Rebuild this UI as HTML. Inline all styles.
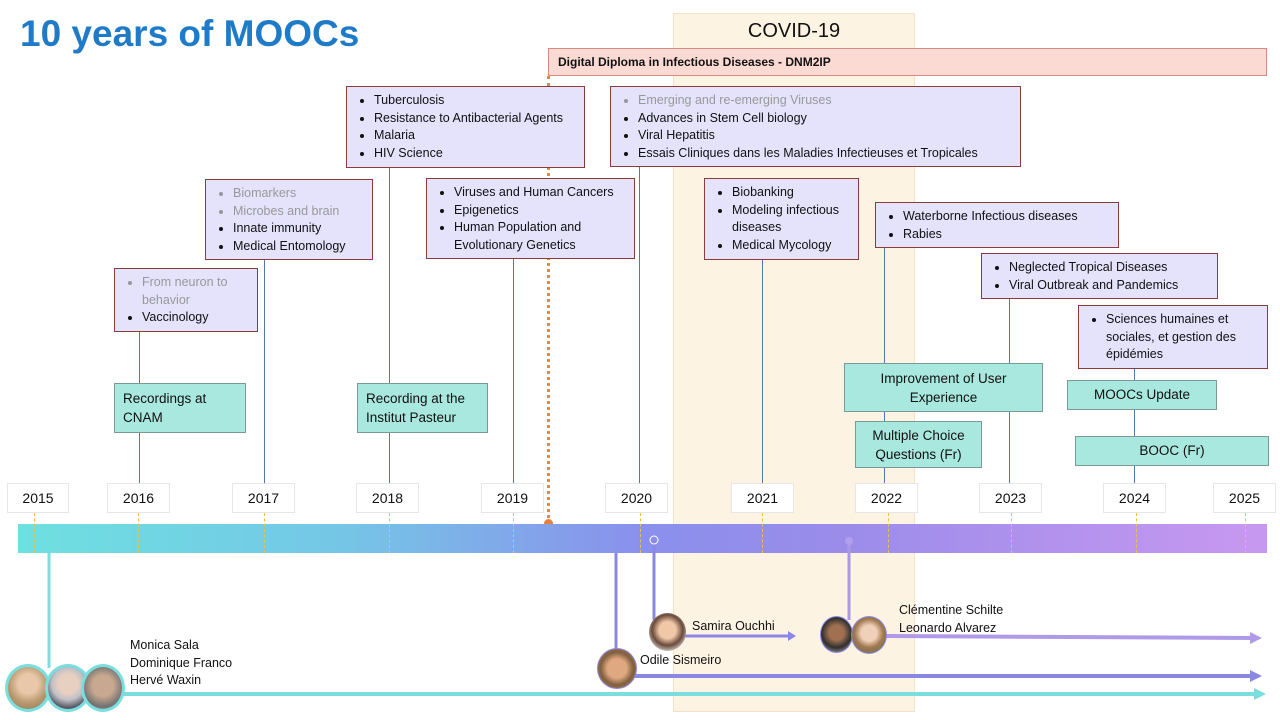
<!DOCTYPE html>
<html><head><meta charset="utf-8"><style>
body{margin:0;width:1280px;height:720px;position:relative;overflow:hidden;background:#fff;font-family:"Liberation Sans",sans-serif;color:#111}
.a{position:absolute}
.box{position:absolute;background:#e5e2fc;border:1px solid #8b3b3b;box-sizing:border-box;font-size:12.5px;line-height:17.5px;padding:5px 6px 0 0}
.box ul{margin:0;padding-left:27px}
.box li{padding-left:0}
.g{color:#999}
.t{position:absolute;background:#a9e8de;border:1px solid #7a9a96;box-sizing:border-box;font-size:13.5px;line-height:19px}
.yr{position:absolute;top:483px;height:30px;background:#fff;border:1px solid #e6e6e6;box-sizing:border-box;font-size:14px;line-height:28px;text-align:center}
.v{position:absolute;width:1px;background:#4d7bb0}
.d{position:absolute;top:513px;height:40px;border-left:1px dashed #f0c040}
.name{position:absolute;font-size:12.5px;line-height:17.5px}
.av{position:absolute;border-radius:50%;box-sizing:border-box}
</style></head><body>
<div class="a" style="left:673px;top:13px;width:242px;height:699px;background:#fdf3e3;border:1px solid #f3e2c6;box-sizing:border-box"></div>
<div class="a" style="left:20px;top:13px;font-size:37px;font-weight:bold;color:#1f7bc8">10 years of MOOCs</div>
<div class="a" style="left:673px;top:20px;width:242px;text-align:center;font-size:20px">COVID-19</div>
<div class="a" style="left:548px;top:48px;width:719px;height:28px;background:#fbdad4;border:1px solid #d98a80;box-sizing:border-box;font-size:12px;font-weight:bold;line-height:26px;padding-left:9px">Digital Diploma in Infectious Diseases - DNM2IP</div>
<div class="a" style="left:547px;top:76px;height:448px;border-left:3px dotted #e8883a"></div>
<div class="a" style="left:544px;top:519px;width:9px;height:9px;border-radius:50%;background:#e8803a"></div>

<div class="v" style="left:139px;top:331px;height:152px"></div>
<div class="v" style="left:264px;top:259px;height:224px"></div>
<div class="v" style="left:389px;top:167px;height:316px"></div>
<div class="v" style="left:513px;top:258px;height:225px"></div>
<div class="v" style="left:639px;top:166px;height:317px"></div>
<div class="v" style="left:762px;top:259px;height:224px"></div>
<div class="v" style="left:884px;top:247px;height:236px"></div>
<div class="v" style="left:1009px;top:298px;height:185px"></div>
<div class="v" style="left:1134px;top:368px;height:115px"></div>

<div class="box" style="left:114px;top:268px;width:144px;height:64px"><ul><li class="g">From neuron to behavior</li><li>Vaccinology</li></ul></div>
<div class="box" style="left:205px;top:179px;width:168px;height:81px"><ul><li class="g">Biomarkers</li><li class="g">Microbes and brain</li><li>Innate immunity</li><li>Medical Entomology</li></ul></div>
<div class="box" style="left:346px;top:86px;width:239px;height:82px"><ul><li>Tuberculosis</li><li>Resistance to Antibacterial Agents</li><li>Malaria</li><li>HIV Science</li></ul></div>
<div class="box" style="left:426px;top:178px;width:209px;height:81px"><ul><li>Viruses and Human Cancers</li><li>Epigenetics</li><li>Human Population and Evolutionary Genetics</li></ul></div>
<div class="box" style="left:610px;top:86px;width:411px;height:81px"><ul><li class="g">Emerging and re-emerging Viruses</li><li>Advances in Stem Cell biology</li><li>Viral Hepatitis</li><li>Essais Cliniques dans les Maladies Infectieuses et Tropicales</li></ul></div>
<div class="box" style="left:704px;top:178px;width:155px;height:82px"><ul><li>Biobanking</li><li>Modeling infectious diseases</li><li>Medical Mycology</li></ul></div>
<div class="box" style="left:875px;top:202px;width:244px;height:46px"><ul><li>Waterborne Infectious diseases</li><li>Rabies</li></ul></div>
<div class="box" style="left:981px;top:253px;width:237px;height:46px"><ul><li>Neglected Tropical Diseases</li><li>Viral Outbreak and Pandemics</li></ul></div>
<div class="box" style="left:1078px;top:305px;width:190px;height:64px"><ul><li>Sciences humaines et sociales, et gestion des épidémies</li></ul></div>

<div class="t" style="left:114px;top:383px;width:132px;height:50px;padding:5px 8px">Recordings at CNAM</div>
<div class="t" style="left:357px;top:383px;width:131px;height:50px;padding:5px 8px">Recording at the Institut Pasteur</div>
<div class="t" style="left:844px;top:363px;width:199px;height:49px;padding:5px 8px;text-align:center">Improvement of User Experience</div>
<div class="t" style="left:855px;top:421px;width:127px;height:47px;padding:4px 4px;text-align:center">Multiple Choice Questions (Fr)</div>
<div class="t" style="left:1067px;top:380px;width:150px;height:30px;line-height:28px;text-align:center">MOOCs Update</div>
<div class="t" style="left:1075px;top:436px;width:194px;height:30px;line-height:28px;text-align:center">BOOC (Fr)</div>

<div class="a" style="left:18px;top:524px;width:1249px;height:29px;background:linear-gradient(90deg,#6ee0e0 0%,#74c8e6 25%,#8a90ec 50%,#9a8cea 65%,#c898f0 100%)"></div>
<div class="yr" style="left:7px;width:62px">2015</div>
<div class="yr" style="left:107px;width:63px">2016</div>
<div class="yr" style="left:232px;width:63px">2017</div>
<div class="yr" style="left:356px;width:63px">2018</div>
<div class="yr" style="left:481px;width:63px">2019</div>
<div class="yr" style="left:605px;width:63px">2020</div>
<div class="yr" style="left:731px;width:63px">2021</div>
<div class="yr" style="left:855px;width:63px">2022</div>
<div class="yr" style="left:979px;width:63px">2023</div>
<div class="yr" style="left:1103px;width:63px">2024</div>
<div class="yr" style="left:1213px;width:63px">2025</div>
<div class="d" style="left:34px"></div><div class="d" style="left:138px"></div><div class="d" style="left:264px"></div><div class="d" style="left:389px"></div><div class="d" style="left:513px"></div><div class="d" style="left:640px"></div><div class="d" style="left:762px"></div><div class="d" style="left:888px"></div><div class="d" style="left:1011px"></div><div class="d" style="left:1136px"></div><div class="d" style="left:1245px"></div>

<svg class="a" style="left:0;top:0" width="1280" height="720">
<line x1="49" y1="553" x2="49" y2="668" stroke="#7adede" stroke-width="3"/>
<line x1="100" y1="694" x2="1255" y2="694" stroke="#7adede" stroke-width="4"/>
<polygon points="1254,688 1266,694 1254,700" fill="#7adede"/>
<line x1="616" y1="553" x2="616" y2="652" stroke="#8a88e2" stroke-width="3"/>
<line x1="630" y1="676" x2="1252" y2="676" stroke="#8a88e2" stroke-width="4"/>
<polygon points="1250,670 1262,676 1250,682" fill="#8a88e2"/>
<line x1="654" y1="540" x2="654" y2="620" stroke="#8a88e2" stroke-width="3"/>
<circle cx="654" cy="540" r="4" fill="none" stroke="#fff" stroke-width="1"/>
<line x1="668" y1="636" x2="790" y2="636" stroke="#8a88e2" stroke-width="3"/>
<polygon points="788,631 796,636 788,641" fill="#8a88e2"/>
<line x1="849" y1="541" x2="849" y2="620" stroke="#a898e6" stroke-width="3"/>
<circle cx="849" cy="541" r="4" fill="#b0a0ec"/>
<line x1="880" y1="636" x2="1252" y2="638" stroke="#b09ae8" stroke-width="4"/>
<polygon points="1250,632 1262,638 1250,644" fill="#b09ae8"/>
</svg>

<div class="av" style="left:5px;top:664px;width:46px;height:48px;border:3px solid #7adede;background:radial-gradient(circle at 50% 40%,#e8c8a8 0 30%,#b89870 60%,#8a7a50)"></div>
<div class="av" style="left:45px;top:664px;width:46px;height:48px;border:3px solid #7adede;background:radial-gradient(circle at 50% 40%,#e8d0c0 0 30%,#c0c0c8 50%,#404050 80%)"></div>
<div class="av" style="left:81px;top:664px;width:44px;height:48px;border:3px solid #7adede;background:radial-gradient(circle at 50% 45%,#c8a890 0 35%,#707070 70%,#d8d8d8)"></div>
<div class="name" style="left:130px;top:637px">Monica Sala<br>Dominique Franco<br>Hervé Waxin</div>
<div class="av" style="left:597px;top:648px;width:40px;height:41px;border:1px solid #8a88e2;background:radial-gradient(circle at 50% 50%,#e0a880 0 35%,#806040 60%,#c08050)"></div>
<div class="name" style="left:640px;top:652px">Odile Sismeiro</div>
<div class="av" style="left:649px;top:613px;width:37px;height:38px;background:radial-gradient(circle at 50% 45%,#f0c8a8 0 30%,#6a4a3a 55%,#d8d8d8 80%)"></div>
<div class="name" style="left:692px;top:618px">Samira Ouchhi</div>
<div class="av" style="left:820px;top:616px;width:33px;height:37px;border:1px solid #8a88e2;background:radial-gradient(circle at 50% 45%,#a07050 0 30%,#303030 60%,#c0c0c0)"></div>
<div class="av" style="left:851px;top:616px;width:36px;height:38px;border:1px solid #8a88e2;background:radial-gradient(circle at 50% 45%,#f0d0b8 0 30%,#a07850 55%,#607050)"></div>
<div class="name" style="left:899px;top:602px">Clémentine Schilte<br>Leonardo Alvarez</div>
</body></html>
